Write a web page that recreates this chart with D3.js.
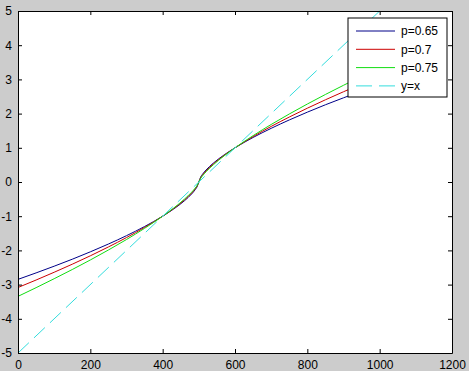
<!DOCTYPE html>
<html>
<head>
<meta charset="utf-8">
<script src="https://cdn.jsdelivr.net/npm/d3@7"></script>
<style>
  body { margin: 0; background: #cccccc; }
  svg { display: block; }
  text { font-family: "Liberation Sans", Arial, sans-serif; font-size: 12px; fill: #000; }
</style>
</head>
<body>
<div id="chart"></div>
<script>
// Global Variables :
var width = 469,
    height = 371;

var margin = {top: 11, right: 17, bottom: 18, left: 18};

// data
var xs = [0, 50, 100, 150, 200, 250, 300, 350, 400, 430, 460, 480, 490, 495, 500,
          505, 510, 520, 540, 570, 600, 650, 700, 750, 800, 850, 900, 950, 1000];

var y065 = [-2.847, -2.658, -2.462, -2.258, -2.042, -1.814, -1.569, -1.302, -1, -0.793, -0.551, -0.351, -0.224, -0.143, 0,
            0.143, 0.224, 0.351, 0.551, 0.793, 1, 1.302, 1.569, 1.814, 2.042, 2.258, 2.462, 2.658, 2.847];
var y07 = [-3.085, -2.866, -2.639, -2.404, -2.158, -1.899, -1.625, -1.328, -1, -0.779, -0.527, -0.324, -0.200, -0.123, 0,
           0.123, 0.200, 0.324, 0.527, 0.779, 1, 1.328, 1.625, 1.899, 2.158, 2.404, 2.639, 2.866, 3.085];
var y075 = [-3.344, -3.090, -2.828, -2.559, -2.280, -1.988, -1.682, -1.355, -1, -0.765, -0.503, -0.299, -0.178, -0.106, 0,
            0.106, 0.178, 0.299, 0.503, 0.765, 1, 1.355, 1.682, 1.988, 2.280, 2.559, 2.828, 3.090, 3.344];

var lineX = [0, 1000];
var lineY = [-5, 5];

var seriesNames = ["p=0.65", "p=0.7", "p=0.75", "y=x"];
var seriesColors = ["#000088", "#cc0000", "#11dd11", "#33dddd"];

var xTicks = [0, 200, 400, 600, 800, 1000, 1200];
var yTicks = [-5, -4, -3, -2, -1, 0, 1, 2, 3, 4, 5];

var svg = d3.select("#chart").append("svg")
  .attr("width", width)
  .attr("height", height);

svg.append("rect").attr("width", width).attr("height", height).attr("fill", "#cccccc");

var x = d3.scaleLinear().domain([0, 1200]).range([margin.left, width - margin.right]);
var y = d3.scaleLinear().domain([-5, 5]).range([height - margin.bottom, margin.top]);

// plot area
svg.append("rect")
  .attr("x", x(0)).attr("y", y(5))
  .attr("width", x(1200) - x(0)).attr("height", y(-5) - y(5))
  .attr("fill", "#fff");

var line = d3.line()
  .x(function(d) { return x(d[0]); })
  .y(function(d) { return y(d[1]); })
  .curve(d3.curveMonotoneX);

var curves = [y065, y07, y075];
curves.forEach(function(ys, i) {
  svg.append("path")
    .datum(xs.map(function(v, j) { return [v, ys[j]]; }))
    .attr("d", line)
    .attr("fill", "none")
    .attr("stroke", seriesColors[i])
    .attr("stroke-width", 1);
});

svg.append("path")
  .datum(lineX.map(function(v, j) { return [v, lineY[j]]; }))
  .attr("d", d3.line().x(function(d) { return x(d[0]); }).y(function(d) { return y(d[1]); }))
  .attr("fill", "none")
  .attr("stroke", seriesColors[3])
  .attr("stroke-width", 1)
  .attr("stroke-dasharray", "15,7");

var plain = function(d) { return String(d); };

// Axes :
svg.append("g").attr("transform", "translate(0," + y(-5) + ")")
  .call(d3.axisBottom(x).tickValues(xTicks).tickSizeInner(-4).tickSizeOuter(0).tickPadding(7).tickFormat(plain));
svg.append("g").attr("transform", "translate(0," + y(5) + ")")
  .call(d3.axisTop(x).tickValues(xTicks).tickSizeInner(-4).tickSizeOuter(0).tickFormat(""));
svg.append("g").attr("transform", "translate(" + x(0) + ",0)")
  .call(d3.axisLeft(y).tickValues(yTicks).tickSizeInner(-4).tickSizeOuter(0).tickPadding(6).tickFormat(plain));
svg.append("g").attr("transform", "translate(" + x(1200) + ",0)")
  .call(d3.axisRight(y).tickValues(yTicks).tickSizeInner(-4).tickSizeOuter(0).tickFormat(""));

svg.selectAll(".domain").attr("stroke", "#000");
svg.selectAll(".tick line").attr("stroke", "#000");
svg.selectAll(".tick text").style("font-family", "Liberation Sans, Arial, sans-serif").style("font-size", "12px");

// Legend :
var lg = svg.append("g").attr("transform", "translate(348,18)");
lg.append("rect").attr("width", 99).attr("height", 79)
  .attr("fill", "#fff").attr("stroke", "#000");
seriesNames.forEach(function(name, i) {
  var ly = 13 + i * 18.3;
  lg.append("line")
    .attr("x1", 8).attr("x2", 47).attr("y1", ly).attr("y2", ly)
    .attr("stroke", seriesColors[i])
    .attr("stroke-dasharray", i == 3 ? "16,7" : null);
  lg.append("text").attr("x", 53).attr("y", ly).attr("dy", "0.35em").text(name);
});
</script>
</body>
</html>
